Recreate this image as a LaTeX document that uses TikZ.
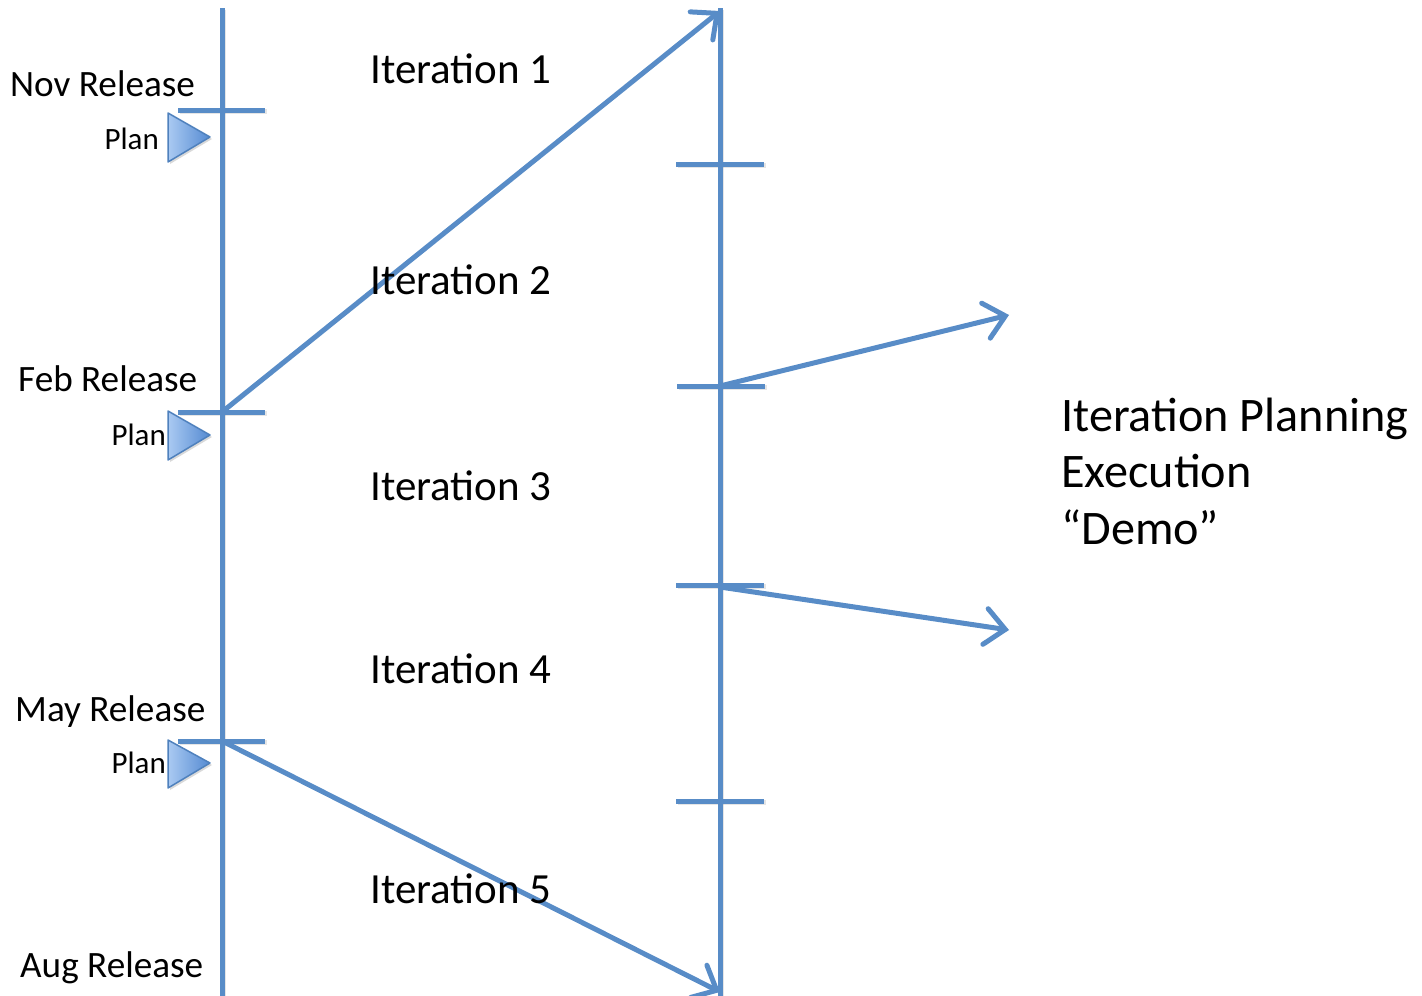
\documentclass[tikz,border=0pt]{standalone}
\usepackage{fontspec}
\setmainfont{Carlito}
\usetikzlibrary{arrows.meta}
\definecolor{lineblue}{RGB}{88,140,199}
\definecolor{triborder}{RGB}{79,129,189}
\definecolor{trilight}{RGB}{170,202,242}
\definecolor{tridark}{RGB}{84,138,210}
\tikzset{
  axis/.style={draw=lineblue, line width=5pt},
  shadowline/.style={draw=black, opacity=0.10, line width=5pt},
  tick/.style={draw=lineblue, line width=5pt},
  iterarrow/.style={draw=lineblue, line width=5pt, line cap=round,
    -{Straight Barb[length=20pt,width=36pt,line cap=round]}},
  relabel/.style={anchor=base west, inner sep=0pt, font=\fontsize{37.2}{42}\selectfont},
  planlabel/.style={anchor=base east, inner sep=0pt, font=\fontsize{31}{34}\selectfont},
  iterlabel/.style={anchor=base west, inner sep=0pt, font=\fontsize{43}{48}\selectfont},
  biglabel/.style={anchor=base west, inner sep=0pt, font=\fontsize{48.2}{56}\selectfont},
  plantri/.style={draw=triborder, line width=1.5pt, left color=trilight, right color=tridark, line join=round},
  trishadow/.style={fill=black, opacity=0.15}
}
\begin{document}
\begin{tikzpicture}[x=1pt,y=-1pt]
\useasboundingbox (0,0) rectangle (1422,996);
% coordinates
\coordinate (Ltop) at (222,8);
\coordinate (Lbot) at (222,996);
\coordinate (Rtop) at (720,8);
\coordinate (Rbot) at (720,996);
\coordinate (Lt1a) at (178,110); \coordinate (Lt1b) at (265,110);
\coordinate (Lt2a) at (178,412); \coordinate (Lt2b) at (265,412);
\coordinate (Lt3a) at (178,741); \coordinate (Lt3b) at (265,741);
\coordinate (Rt1a) at (676,164); \coordinate (Rt1b) at (764,164);
\coordinate (Rt2a) at (677,386); \coordinate (Rt2b) at (765,386);
\coordinate (Rt3a) at (676,585); \coordinate (Rt3b) at (764,585);
\coordinate (Rt4a) at (676,801); \coordinate (Rt4b) at (764,801);
\coordinate (Feb) at (222,412);
\coordinate (May) at (222,741);
\coordinate (Rtip) at (720,11);
\coordinate (Rbtip) at (720,992);
\coordinate (R2) at (720,386);
\coordinate (R3) at (720,587);
\coordinate (X1) at (1009,315);
\coordinate (X2) at (1009,630);
% shadows
\foreach \a/\b in {Ltop/Lbot,Rtop/Rbot,Lt1a/Lt1b,Lt2a/Lt2b,Lt3a/Lt3b,Rt1a/Rt1b,Rt2a/Rt2b,Rt3a/Rt3b,Rt4a/Rt4b}{
  \draw[shadowline, transform canvas={shift={(1.5pt,-1.5pt)}}] (\a) -- (\b);}
% axes
\draw[axis] (Ltop) -- (Lbot);
\draw[axis] (Rtop) -- (Rbot);
% ticks
\foreach \a/\b in {Lt1a/Lt1b,Lt2a/Lt2b,Lt3a/Lt3b,Rt1a/Rt1b,Rt2a/Rt2b,Rt3a/Rt3b,Rt4a/Rt4b}{
  \draw[tick] (\a) -- (\b);}
% arrows
\draw[iterarrow] (Feb) -- (Rtip);
\draw[iterarrow] (May) -- (Rbtip);
\draw[iterarrow] (R2) -- (X1);
\draw[iterarrow] (R3) -- (X2);
% plan triangles
\foreach \y/\t/\b in {113/137/162, 411/435/460, 740/763/788}{
  \path[trishadow] (170,\y+2) -- (212,\t+2) -- (170,\b+2) -- cycle;
  \path[plantri] (168,\y) -- (210,\t) -- (168,\b) -- cycle;}
% labels
\node[relabel] (nov) at (10,96) {Nov Release};
\node[relabel] (feb) at (18,391) {Feb Release};
\node[relabel] (may) at (15,721) {May Release};
\node[relabel] (aug) at (20,977) {Aug Release};
\node[planlabel] (plan1) at (159,149) {Plan};
\node[planlabel] (plan2) at (166,445) {Plan};
\node[planlabel] (plan3) at (166,773) {Plan};
\node[iterlabel] (it1) at (370,83) {Iteration 1};
\node[iterlabel] (it2) at (370,294) {Iteration 2};
\node[iterlabel] (it3) at (370,500) {Iteration 3};
\node[iterlabel] (it4) at (370,683) {Iteration 4};
\node[iterlabel] (it5) at (370,903) {Iteration 5};
\node[biglabel] (ip) at (1061,431) {Iteration Planning};
\node[biglabel] (ex) at (1061,487) {Execution};
\node[biglabel] (demo) at (1061,544) {“Demo”};
\end{tikzpicture}
\end{document}
